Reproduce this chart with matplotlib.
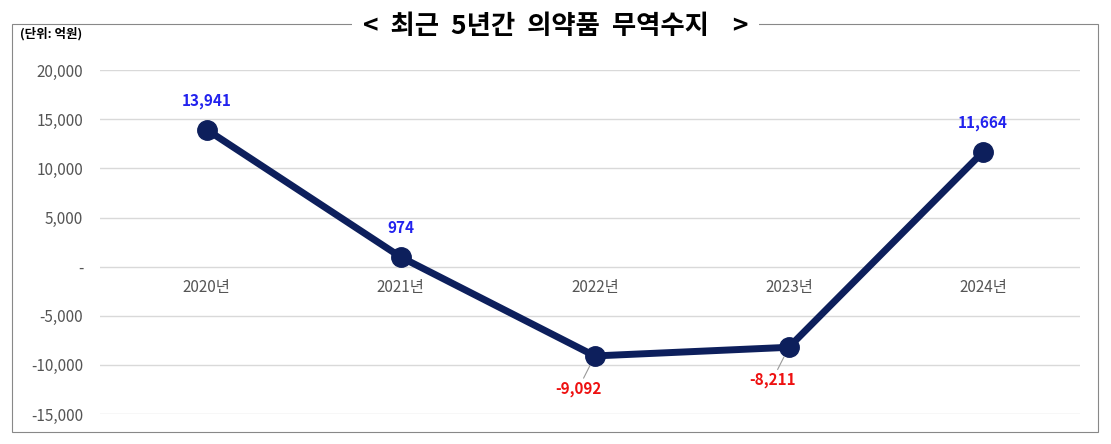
import matplotlib
matplotlib.use('Agg')
import matplotlib.pyplot as plt
from matplotlib.patches import Rectangle

plt.rcParams['font.family'] = ['Noto Sans CJK KR', 'DejaVu Sans']

years = ['2020년', '2021년', '2022년', '2023년', '2024년']
balance = [13941, 974, -9092, -8211, 11664]
yticks = [20000, 15000, 10000, 5000, 0, -5000, -10000, -15000]
ytick_labels = ['20,000', '15,000', '10,000', '5,000', '-', '-5,000', '-10,000', '-15,000']

fig = plt.figure(figsize=(11.11, 4.44), dpi=100)
ax = fig.add_axes([0.09, 0.0676, 0.882, 0.7744])

# outer border
fig.patches.append(Rectangle((12 / 1111, 12 / 444), 1086 / 1111, 408 / 444,
                             transform=fig.transFigure, fill=False,
                             edgecolor='#888888', linewidth=0.8))
fig.text(0.5, 0.94, '<  최근  5년간  의약품  무역수지    >', ha='center', va='center',
         fontsize=19, fontweight='bold',
         bbox=dict(facecolor='white', edgecolor='none', pad=8))
fig.text(0.018, 0.925, '(단위: 억원)', ha='left', va='center', fontsize=9, fontweight='bold')

x = list(range(len(years)))
ax.plot(x, balance, color='#0d1f5c', linewidth=5, marker='o', markersize=14,
        solid_capstyle='round', zorder=3)

for i, v in enumerate(balance):
    txt = f'{v:,}'
    if v >= 0:
        ax.annotate(txt, (i, v), xytext=(0, 15), textcoords='offset points',
                    ha='center', va='bottom', color='#2222ee', fontsize=11, fontweight='bold')
    else:
        ax.annotate(txt, (i, v), xytext=(-12, -18), textcoords='offset points',
                    ha='center', va='top', color='#ee1111', fontsize=11, fontweight='bold',
                    arrowprops=dict(arrowstyle='-', color='#999999', lw=0.8,
                                    shrinkA=0, shrinkB=8))

# category labels just below zero line
for i, lab in enumerate(years):
    ax.text(i, -1300, lab, ha='center', va='top', fontsize=11, color='#555555')

ax.set_xlim(-0.55, 4.5)
ax.set_ylim(-15000, 20000)
ax.set_yticks(yticks)
ax.set_yticklabels(ytick_labels, fontsize=11, color='#555555')
ax.set_xticks([])
ax.grid(axis='y', color='#d9d9d9', linewidth=1)
ax.tick_params(axis='y', length=0, pad=12)
for s in ax.spines.values():
    s.set_visible(False)
ax.set_axisbelow(True)

fig.savefig('out.png', dpi=100)
